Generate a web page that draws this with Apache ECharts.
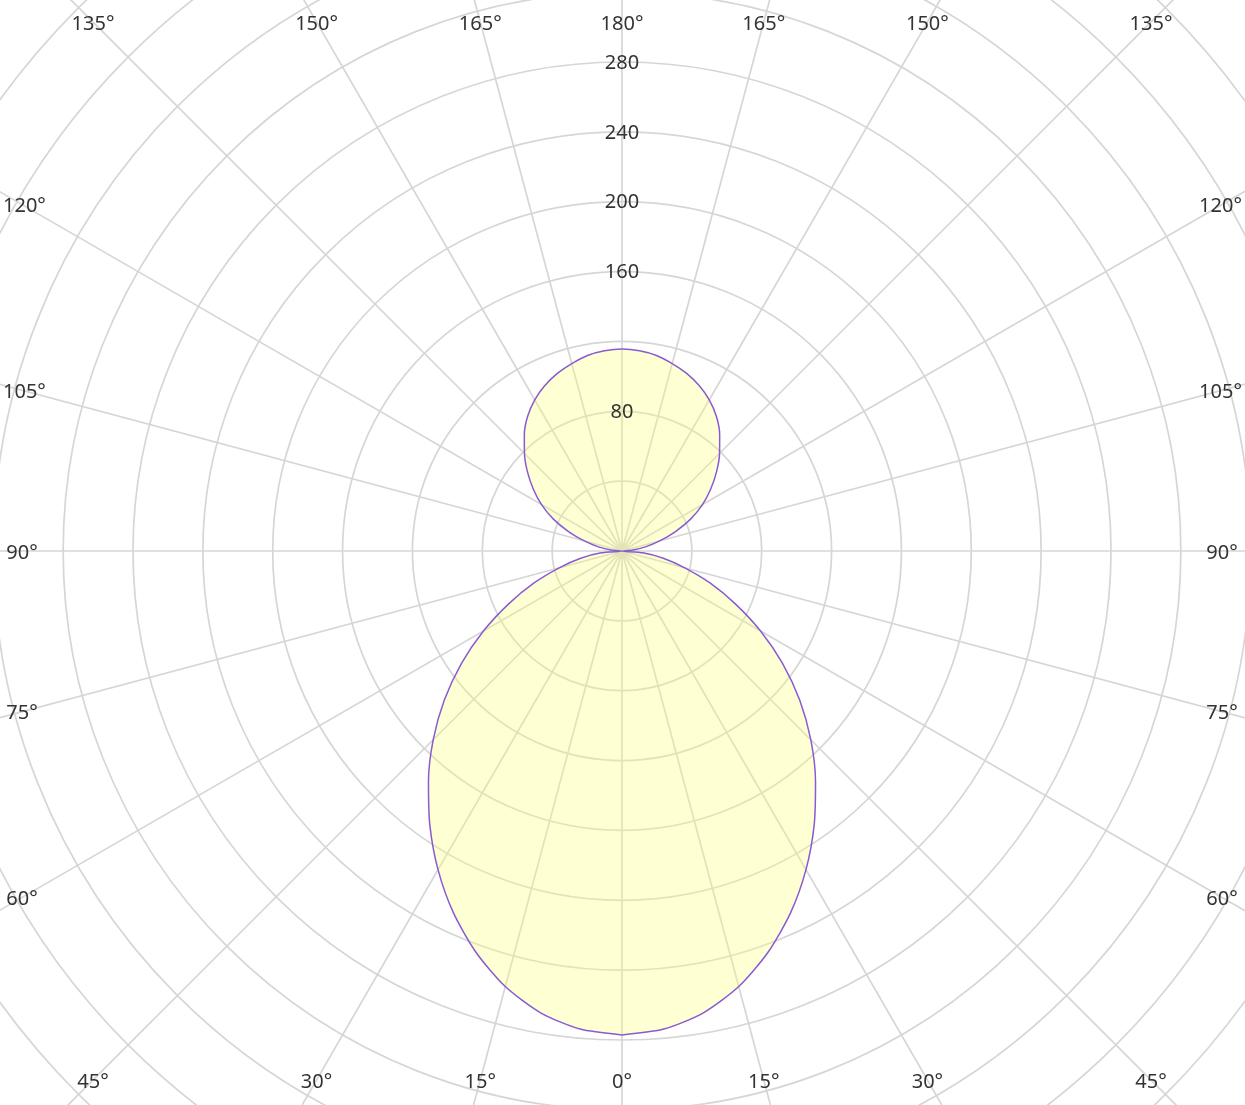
<!DOCTYPE html>
<html>
<head>
<meta charset="utf-8">
<script src="https://cdn.jsdelivr.net/npm/echarts@6/dist/echarts.min.js"></script>
<style>
  html, body { margin: 0; padding: 0; background: #fff; }
  #chart { width: 1245px; height: 1105px; }
</style>
</head>
<body>
<div id="chart"></div>
<script>
// Gamma angles (degrees from nadir) of the photometric planes
const gammaAngles = [0,5,10,15,20,25,30,35,40,45,50,55,60,65,70,75,80,85,90,
                     95,100,105,110,115,120,125,130,135,140,145,150,155,160,165,170,175,180];
// Luminous intensity, plane C0-C180 (left half)
const intensityC0 = [277.1,274.8,268.5,258.2,244.5,228.5,210.7,191.8,172.4,152.9,132.8,112.2,91.6,71.6,53.8,37.2,24.0,12.0,0,
                     6.3,13.7,22.3,32.6,43.5,53.3,62.1,70.7,79.0,87.0,94.2,99.9,104.5,108.2,111.1,113.7,115.1,115.7];
// Luminous intensity, plane C90-C270 (right half)
const intensityC90 = [277.1,274.8,268.5,258.2,244.5,228.5,210.7,191.8,172.4,152.9,132.8,112.2,91.6,71.6,53.8,37.2,24.0,12.0,0,
                      6.3,13.7,22.3,32.6,43.5,53.3,62.1,70.7,79.0,87.0,94.2,99.9,104.5,108.2,111.1,113.7,115.1,115.7];
// Radius tick labels that are shown (drawn along the 180° direction)
const radiusLabels = [80, 160, 200, 240, 280];
const radiusStep = 40;
const radiusMax = 480;
const angleStep = 15;

const FONT = '"Noto Sans", "Liberation Sans", sans-serif';
const FONT_SIZE = 20;
const cx = 622, cy = 551;
const pxPerUnit = 489 / 280;
const labelHalfW = 600, labelHalfH = 529;
const canvasW = 1245, edgePad = 3;

// build polar data: angle value measured clockwise from the top
const curve = [];
for (let i = 0; i < gammaAngles.length; i++) {
  curve.push([intensityC0[i], 180 + gammaAngles[i]]);
}
for (let i = gammaAngles.length - 2; i >= 0; i--) {
  curve.push([intensityC90[i], 180 - gammaAngles[i]]);
}

// text measurement for keeping border labels inside the canvas
const measureCtx = document.createElement('canvas').getContext('2d');
measureCtx.font = FONT_SIZE + 'px ' + FONT;

// angle labels placed along the border of the drawing area
const angleLabels = [];
for (let v = 0; v < 360; v += angleStep) {
  const rad = v * Math.PI / 180;
  const dx = Math.sin(rad), dy = -Math.cos(rad);
  const tx = Math.abs(dx) > 1e-9 ? labelHalfW / Math.abs(dx) : Infinity;
  const ty = Math.abs(dy) > 1e-9 ? labelHalfH / Math.abs(dy) : Infinity;
  const t = Math.min(tx, ty);
  const text = Math.abs(180 - v) + '°';
  const halfTextW = measureCtx.measureText(text).width / 2;
  let x = cx + t * dx;
  x = Math.max(edgePad + halfTextW, Math.min(canvasW - edgePad - halfTextW, x));
  angleLabels.push({
    type: 'text',
    x: x,
    y: cy + t * dy + 2,
    z: 100,
    style: {
      text: text,
      font: FONT_SIZE + 'px ' + FONT,
      fill: '#333',
      align: 'center',
      verticalAlign: 'middle'
    }
  });
}

const chart = echarts.init(document.getElementById('chart'), null, { renderer: 'canvas' });
chart.setOption({
  animation: false,
  backgroundColor: '#ffffff',
  polar: {
    center: [cx, cy],
    radius: radiusMax * pxPerUnit
  },
  angleAxis: {
    type: 'value',
    min: 0,
    max: 360,
    interval: angleStep,
    startAngle: 90,
    clockwise: true,
    axisLine: { show: false },
    axisTick: { show: false },
    axisLabel: { show: false },
    splitLine: { show: true, lineStyle: { color: '#d6d6d6', width: 1.7 } }
  },
  radiusAxis: {
    type: 'value',
    min: 0,
    max: radiusMax,
    interval: radiusStep,
    axisLine: { show: false },
    axisTick: { show: false },
    axisLabel: { show: false },
    splitLine: { show: true, lineStyle: { color: '#d6d6d6', width: 1.7 } }
  },
  series: [{
    type: 'line',
    coordinateSystem: 'polar',
    data: curve,
    showSymbol: false,
    smooth: 0.25,
    lineStyle: { color: '#8a5ad0', width: 1.5 },
    areaStyle: { color: 'rgba(255,255,120,0.45)' },
    z: 3
  }]
});

// radius labels: positioned through the polar coordinate system
const radiusLabelGraphics = radiusLabels.map(function (val) {
  const p = chart.convertToPixel({ polarIndex: 0 }, [val, 0]);
  return {
    type: 'text',
    x: p[0],
    y: p[1] + 1,
    z: 100,
    style: {
      text: String(val),
      font: FONT_SIZE + 'px ' + FONT,
      fill: '#333',
      align: 'center',
      verticalAlign: 'middle'
    }
  };
});

chart.setOption({ graphic: angleLabels.concat(radiusLabelGraphics) });
</script>
</body>
</html>
